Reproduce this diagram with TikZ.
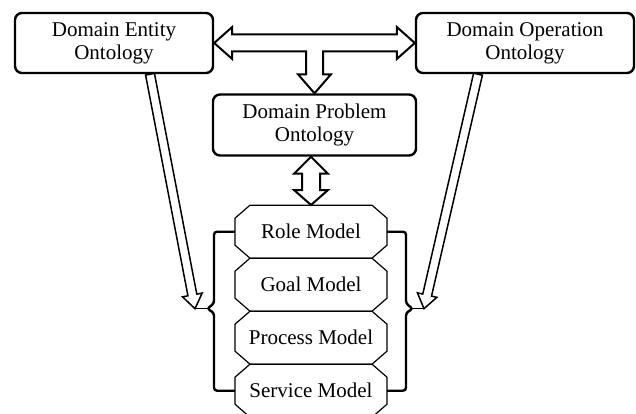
\documentclass[tikz,border=0pt]{standalone}
\usepackage{fontspec}
\setmainfont{Liberation Serif}
\usetikzlibrary{matrix,calc}

% thin hollow arrow, tail #1, tip #2
\newcommand{\slimarrow}[2]{%
	\coordinate (hb) at ($(#2)!14pt!(#1)$);
	\draw[slim] ($(#1)!4.5pt!90:(#2)$) -- ($(hb)!4.5pt!90:(#2)$) -- ($(hb)!10pt!90:(#2)$) -- (#2)
		-- ($(hb)!10pt!-90:(#2)$) -- ($(hb)!4.5pt!-90:(#2)$) -- ($(#1)!4.5pt!-90:(#2)$) -- cycle;
}
% fat hollow arrow with two heads
\newcommand{\twinarrow}[2]{%
	\coordinate (ha) at ($(#1)!17pt!(#2)$);
	\coordinate (hb) at ($(#2)!15pt!(#1)$);
	\draw[fat] (#1) -- ($(ha)!17pt!90:(#2)$) -- ($(ha)!9pt!90:(#2)$) -- ($(hb)!9pt!90:(#2)$) -- ($(hb)!17pt!90:(#2)$) -- (#2)
		-- ($(hb)!17pt!-90:(#2)$) -- ($(hb)!9pt!-90:(#2)$) -- ($(ha)!9pt!-90:(#2)$) -- ($(ha)!17pt!-90:(#2)$) -- cycle;
}

\begin{document}
\begin{tikzpicture}[x=1pt,y=-1pt,
		onto/.style={draw,line width=2.4pt,rounded corners=7pt,align=center,inner sep=0pt,
			font=\fontsize{21}{23}\selectfont},
		model/.style={minimum width=152pt,minimum height=53pt,inner sep=0pt,outer sep=0pt,
			font=\fontsize{21}{23}\selectfont},
		modelline/.style={line width=1.2pt,line join=round},
		fat/.style={draw,fill=white,line width=2pt,line join=miter},
		slim/.style={draw,fill=white,line width=1.5pt,line join=miter},
		brace/.style={line width=2.4pt,rounded corners=3pt}]
	\clip (0,0) rectangle (636,414);
	\node[onto,minimum width=198pt,minimum height=60pt] (entity) at (114,43) {Domain Entity\\Ontology};
	\node[onto,minimum width=218pt,minimum height=60pt] (operation) at (525,43) {Domain Operation\\Ontology};
	\node[onto,minimum width=203pt,minimum height=61pt] (problem) at (314.5,125) {Domain Problem\\Ontology};
	\matrix (models) [matrix of nodes,nodes={model},row sep=0pt,inner sep=0pt,anchor=north] at (311,205) {
		Role Model\\
		Goal Model\\
		Process Model\\
		Service Model\\
	};
	\foreach \r in {1,...,4}
		\draw[modelline] ($(models-\r-1.north west)+(15,0)$) -- ($(models-\r-1.north east)+(-15,0)$)
			-- ($(models-\r-1.north east)+(0,13)$) -- ($(models-\r-1.south east)+(0,-13)$)
			-- ($(models-\r-1.south east)+(-15,0)$) -- ($(models-\r-1.south west)+(15,0)$)
			-- ($(models-\r-1.south west)+(0,-13)$) -- ($(models-\r-1.north west)+(0,13)$) -- cycle;
	% braces round the models
	\draw[brace] (models-1-1.west) -- ++(-21,0) -- ++(0,72) -- ++(-7,5) coordinate (lcusp) -- ++(7,4)
		-- ($(models-4-1.west)+(-21,0)$) -- (models-4-1.west);
	\draw[brace] (models-1-1.east) -- ++(19,0) -- ++(0,72) -- ++(7,5) coordinate (rcusp) -- ++(-7,4)
		-- ($(models-4-1.east)+(19,0)$) -- (models-4-1.east);
	\coordinate (ltip) at ($(lcusp)+(-12,0)$);
	\coordinate (rtip) at ($(rcusp)+(11,0)$);
	\draw[line width=1.5pt] (lcusp) -- (ltip);
	\draw[line width=1.5pt] (rcusp) -- (rtip);
	\slimarrow{$(entity.south)+(36,0)$}{ltip}
	\slimarrow{$(operation.south)+(-47,0)$}{rtip}
	% three way arrow between the ontologies
	\coordinate (J) at (problem.north |- entity.east);
	\draw[fat] (entity.east) -- ($(entity.east)+(18,-16)$) -- ($(entity.east)+(18,-8.5)$)
		-- ($(operation.west)+(-18,-8.5)$) -- ($(operation.west)+(-18,-16)$) -- (operation.west)
		-- ($(operation.west)+(-18,16)$) -- ($(operation.west)+(-18,8.5)$) -- ($(J)+(8.5,8.5)$)
		-- ($(problem.north)+(8.5,-19)$) -- ($(problem.north)+(16.5,-19)$) -- (problem.north)
		-- ($(problem.north)+(-16.5,-19)$) -- ($(problem.north)+(-8.5,-19)$) -- ($(J)+(-8.5,8.5)$)
		-- ($(entity.east)+(18,8.5)$) -- ($(entity.east)+(18,16)$) -- cycle;
	\coordinate (ptop) at (problem.south -| models.north);
	\twinarrow{ptop}{models.north}
\end{tikzpicture}
\end{document}
